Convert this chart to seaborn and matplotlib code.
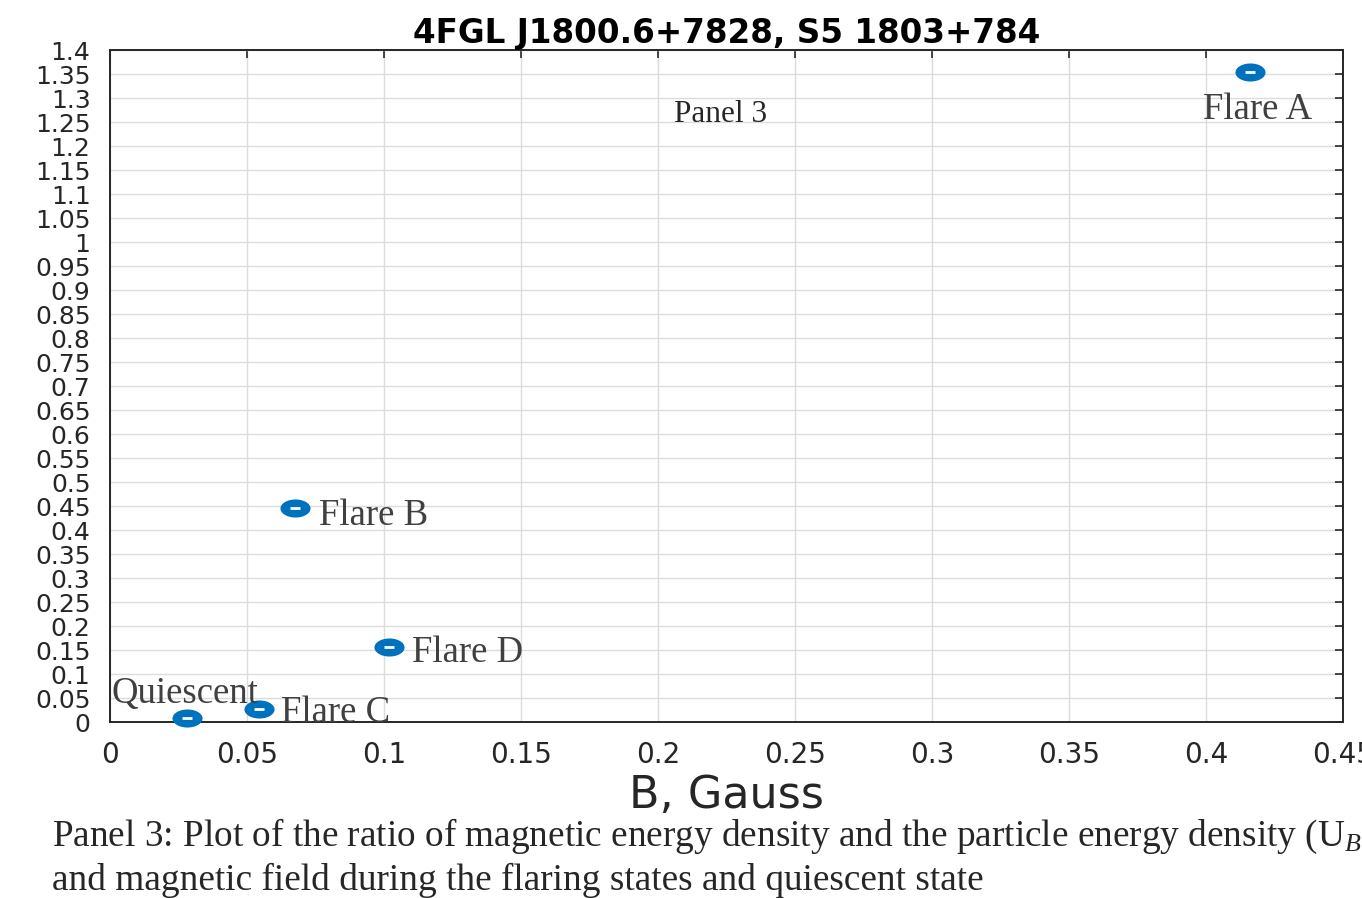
import numpy as np
import pandas as pd
import matplotlib
matplotlib.use("Agg")
import matplotlib.pyplot as plt
from matplotlib.path import Path
import seaborn as sns

# ---- data ----
states = ["Flare A", "Flare B", "Flare C", "Flare D", "Quiescent"]
b_gauss = [0.416, 0.0675, 0.0543, 0.1017, 0.028]
ratio = [1.354, 0.446, 0.027, 0.156, 0.008]
x_ticks = [0, 0.05, 0.1, 0.15, 0.2, 0.25, 0.3, 0.35, 0.4, 0.45]
x_tick_labels = ["0", "0.05", "0.1", "0.15", "0.2", "0.25", "0.3", "0.35", "0.4", "0.45"]
y_ticks = [round(0.05 * i, 2) for i in range(29)]
y_tick_labels = ["0", "0.05", "0.1", "0.15", "0.2", "0.25", "0.3", "0.35", "0.4", "0.45",
                 "0.5", "0.55", "0.6", "0.65", "0.7", "0.75", "0.8", "0.85", "0.9", "0.95",
                 "1", "1.05", "1.1", "1.15", "1.2", "1.25", "1.3", "1.35", "1.4"]
# label offsets (in points) relative to each point
label_offsets = {"Flare A": (-34, -34), "Flare B": (17, -12), "Flare C": (16, -9),
                 "Flare D": (17, -11), "Quiescent": (-54, 11)}
title = "4FGL J1800.6+7828, S5 1803+784"
xlabel = "B, Gauss"
panel_text = "Panel 3"
caption1 = r"Panel 3: Plot of the ratio of magnetic energy density and the particle energy density (U$_{\mathit{B}}$"
caption2 = "and magnetic field during the flaring states and quiescent state"

df = pd.DataFrame({"state": states, "B": b_gauss, "ratio": ratio})

sns.set_style("white")
plt.rcParams["font.family"] = ["DejaVu Sans"]
plt.rcParams["mathtext.fontset"] = "custom"
plt.rcParams["mathtext.rm"] = "Liberation Serif"
plt.rcParams["mathtext.it"] = "Liberation Serif:italic"

fig = plt.figure(figsize=(13.62, 8.98), dpi=100)
ax = fig.add_axes([110 / 1362, 1 - 722 / 898, (1343 - 110) / 1362, (722 - 50) / 898])

blue = "#0072BD"
t = np.linspace(0, 2 * np.pi, 60)
ell = Path(np.column_stack([np.cos(t), 0.6 * np.sin(t)]), closed=True)

sns.scatterplot(data=df, x="B", y="ratio", ax=ax, marker=ell, s=470,
                color=blue, edgecolor=blue, linewidth=0, zorder=5, legend=False,
                clip_on=False)
ax.scatter(df["B"], df["ratio"], marker="_", s=60, color="white", linewidths=2,
           zorder=6, clip_on=False)

for st, xv, yv in zip(states, b_gauss, ratio):
    dx, dy = label_offsets[st]
    ax.annotate(st, (xv, yv), xytext=(dx, dy), textcoords="offset points",
                family="Liberation Serif", fontsize=26.5, color="#404040",
                ha="left", va="baseline", zorder=7, annotation_clip=False)

ax.text(0.206, 1.25, panel_text, family="Liberation Serif", fontsize=22.5,
        color="#262626", ha="left", va="baseline")

ax.set_xlim(0, 0.45)
ax.set_ylim(0, 1.4)
ax.set_xticks(x_ticks)
ax.set_xticklabels(x_tick_labels)
ax.set_yticks(y_ticks)
ax.set_yticklabels(y_tick_labels)
ax.tick_params(axis="both", direction="in", length=6, width=1.2, colors="#262626",
               top=True, right=True, labelcolor="#262626")
ax.tick_params(axis="x", pad=14, labelsize=20)
ax.tick_params(axis="y", pad=14, labelsize=18)
ax.grid(True, color="#dcdcdc", linewidth=1.0)
ax.set_axisbelow(True)
for sp in ax.spines.values():
    sp.set_color("#262626")
    sp.set_linewidth(1.4)
    sp.set_visible(True)
    sp.set_zorder(2)

ax.set_title(title, fontsize=23.5, fontweight="bold", color="black", pad=5)
ax.set_xlabel(xlabel, fontsize=32, color="#262626", labelpad=3)
ax.set_ylabel("")

fig.text(52 / 1362, 1 - 846 / 898, caption1, family="Liberation Serif", fontsize=26.8,
         color="#262626", ha="left", va="baseline")
fig.text(52 / 1362, 1 - 890 / 898, caption2, family="Liberation Serif", fontsize=26.8,
         color="#262626", ha="left", va="baseline")

fig.savefig("out.png", dpi=100)
